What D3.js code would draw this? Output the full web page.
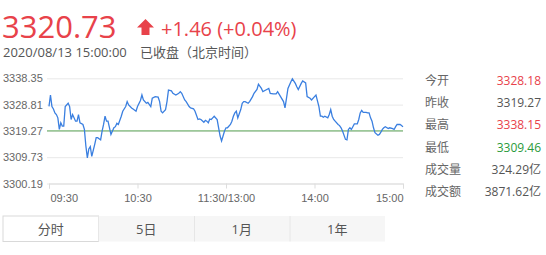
<!DOCTYPE html>
<meta charset="utf-8">
<style>
body { margin: 0; background: #fff; }
svg { display: block; font-family: "Open Sans", "Noto Sans CJK SC", sans-serif; }
.grid line { stroke: #e8e8e8; }
.grid path { display: none; }
.axis text, .grid text { fill: #666; font-size: 11px; }
.stat text { font-size: 12px; }
.tabs text { font-size: 13px; fill: #555; }
</style>
<svg width="546" height="255"></svg>
<script src="https://d3js.org/d3.v7.min.js"></script>
<script>

// trading minutes since 09:30 (120 = 11:30/13:00, 240 = 15:00)
var mins = [0,1,2,3,4,5,6,7,8,9,10,11,13,14,15,16,18,19,20,21,23,24,25,26,27,28,29,31,32,33,35,36,37,38,39,40,42,44,45,46,47,49,50,52,53,54,56,57,59,60,
  62,63,64,66,67,69,70,72,74,75,76,77,79,80,81,83,84,86,88,89,90,92,93,95,96,98,99,101,102,103,105,106,107,108,109,110,111,112,114,115,116,117,119,120,
  121,123,124,125,126,127,128,130,131,132,133,135,136,138,139,141,142,144,145,147,149,150,152,154,155,157,159,160,161,162,164,165,167,168,169,171,172,174,175,177,178,180,181,183,184,185,186,187,189,190,
  191,192,193,194,196,197,198,199,201,202,203,204,205,206,207,209,210,211,212,213,215,216,217,218,219,220,221,223,224,225,226,227,228,230,231,233,234,235,236,238,239,240];
var prices = [3328.18,3332.3,3328.1,3327.2,3325.8,3325.2,3324.0,3319.8,3322.2,3321.0,3321.0,3328.1,3329.3,3328.1,3323.4,3325.2,3322.8,3322.8,3325.2,3322.2,3321.6,3319.8,3313.8,3309.46,3312.7,3313.6,3310.0,3314.4,3316.8,3316.8,3316.0,3319.2,3321.6,3324.6,3322.8,3322.8,3318.0,3320.4,3320.8,3322.0,3321.6,3324.6,3326.4,3328.1,3329.9,3328.7,3327.6,3327.2,3326.4,3328.1,
  3330.3,3332.3,3330.5,3329.3,3329.6,3328.1,3331.1,3331.7,3331.5,3329.9,3326.4,3325.8,3327.0,3329.9,3334.1,3333.8,3332.9,3332.3,3332.9,3333.5,3332.9,3330.5,3329.9,3328.1,3327.6,3327.3,3326.4,3323.4,3323.6,3323.4,3322.4,3323.1,3322.8,3322.2,3323.6,3323.4,3324.0,3324.6,3323.4,3320.4,3317.4,3315.6,3319.2,3320.4,
  3320.4,3321.6,3322.8,3324.6,3325.8,3326.4,3324.0,3327.0,3329.3,3329.9,3329.9,3329.3,3329.9,3331.7,3332.9,3334.3,3336.2,3334.7,3333.5,3334.1,3334.7,3332.9,3332.7,3332.7,3333.5,3331.7,3329.9,3327.6,3331.1,3334.7,3337.1,3338.15,3336.5,3335.3,3334.3,3336.5,3337.4,3336.7,3331.7,3331.1,3330.5,3331.7,3332.3,3328.1,3324.6,3324.6,3324.2,3324.6,3324.0,3325.2,
  3327.0,3324.6,3323.4,3322.8,3321.6,3321.2,3320.4,3319.2,3316.2,3316.0,3319.8,3320.4,3319.8,3320.8,3321.8,3321.8,3323.4,3325.8,3326.7,3326.0,3326.0,3325.8,3325.8,3324.0,3322.8,3320.4,3318.6,3317.7,3318.0,3318.8,3319.8,3320.4,3320.8,3320.1,3320.4,3320.1,3319.8,3320.8,3321.6,3321.6,3321.2,3320.73];

var prevClose = 3319.27;
var yTicks = [3300.19, 3309.73, 3319.27, 3328.81, 3338.35];
var xTicks = [0, 60, 120, 180, 240];
var xLabels = ["09:30", "10:30", "11:30/13:00", "14:00", "15:00"];

var statLabels = ["今开", "昨收", "最高", "最低", "成交量", "成交额"];
var statValues = ["3328.18", "3319.27", "3338.15", "3309.46", "324.29亿", "3871.62亿"];
var statColors = ["#e8424a", "#555", "#e8424a", "#2a9a3a", "#555", "#555"];
var tabs = ["分时", "5日", "1月", "1年"];

var red = "#e8424a";
var svg = d3.select("svg");

// header
svg.append("text").attr("x", 2).attr("y", 38)
	.attr("font-size", 31).attr("fill", red).text("3320.73");
svg.append("path")
	.attr("d", "M145.5,19L154,27.5L149.5,27.5L149.5,35L141.5,35L141.5,27.5L137,27.5Z")
	.attr("fill", red);
svg.append("text").attr("x", 161).attr("y", 36)
	.attr("font-size", 20).attr("fill", red).text("+1.46 (+0.04%)");
svg.append("text").attr("x", 3).attr("y", 57)
	.attr("font-size", 13).attr("fill", "#555").text("2020/08/13 15:00:00");
svg.append("text").attr("x", 140).attr("y", 57)
	.attr("font-size", 13).attr("fill", "#555").text("已收盘（北京时间）");

// chart
var plot = {left: 49, right: 403, top: 78.3, bottom: 183.5};

var x = d3.scaleLinear().domain([0, 240]).range([plot.left, plot.right]),
	y = d3.scaleLinear().domain([yTicks[0], yTicks[4]]).range([plot.bottom, plot.top]);

var grid = svg.append("g")
	.attr("class", "grid")
	.attr("transform", "translate(" + plot.left + ",0)")
	.call(d3.axisLeft(y).tickValues(yTicks).tickSize(-(plot.right - plot.left))
		.tickFormat(d3.format(".2f")));
grid.selectAll("text").attr("text-anchor", "start").attr("x", 3 - plot.left).attr("dy", "0.32em");
grid.selectAll("line").attr("x1", -2);

var xAxis = svg.append("g")
	.attr("class", "axis")
	.attr("transform", "translate(0," + plot.bottom + ")")
	.call(d3.axisBottom(x).tickValues(xTicks).tickSize(5).tickPadding(6)
		.tickFormat(function(d, i) { return xLabels[i]; }));
xAxis.select(".domain").attr("stroke", "#ddd");
xAxis.selectAll("line").attr("stroke", "#ddd");
xAxis.selectAll("text")
	.attr("text-anchor", function(d, i) { return i === 0 ? "start" : i === xTicks.length - 1 ? "end" : "middle"; })
	.attr("dx", function(d, i) { return i === 0 ? 1 : 0; });

svg.append("line")
	.attr("x1", plot.left - 2).attr("x2", plot.right)
	.attr("y1", y(prevClose)).attr("y2", y(prevClose))
	.attr("stroke", "#5fa85a").attr("stroke-width", 1);

var line = d3.line()
	.x(function(d) { return x(d[0]); })
	.y(function(d) { return y(d[1]); });

svg.append("path")
	.datum(mins.map(function(m, i) { return [m, prices[i]]; }))
	.attr("d", line)
	.attr("fill", "none")
	.attr("stroke", "#3a7fe0")
	.attr("stroke-width", 1.3);

// stats panel
var stat = svg.append("g").attr("class", "stat")
	.selectAll("g").data(statLabels).enter().append("g")
	.attr("transform", function(d, i) { return "translate(0," + (85 + i * 22.2) + ")"; });
stat.append("text").attr("x", 425).attr("fill", "#666").text(function(d) { return d; });
stat.append("text").attr("x", 541).attr("text-anchor", "end")
	.attr("fill", function(d, i) { return statColors[i]; })
	.text(function(d, i) { return statValues[i]; });

// tabs
var tab = svg.append("g").attr("class", "tabs")
	.selectAll("g").data(tabs).enter().append("g")
	.attr("transform", function(d, i) { return "translate(" + (3 + i * 95.5) + ",216)"; });
tab.append("rect")
	.attr("width", 95.5).attr("height", 25.5)
	.attr("fill", function(d, i) { return i === 0 ? "#fff" : "#f6f6f6"; })
	.attr("stroke", function(d, i) { return i === 0 ? "#d9d9d9" : "none"; });
tab.filter(function(d, i) { return i > 1; }).append("line")
	.attr("x1", 0.5).attr("x2", 0.5).attr("y1", 0).attr("y2", 25.5)
	.attr("stroke", "#e6e6e6");
tab.append("text").attr("x", 47.75).attr("y", 17.5).attr("text-anchor", "middle")
	.text(function(d) { return d; });

</script>
